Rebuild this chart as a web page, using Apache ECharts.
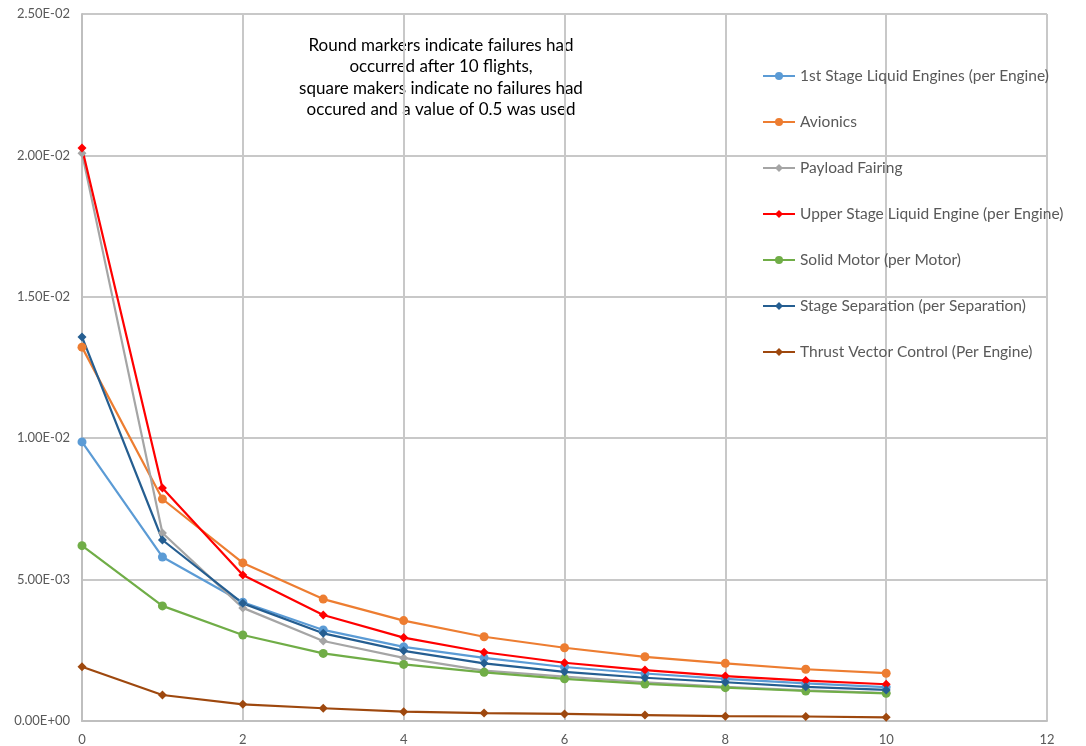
<!DOCTYPE html>
<html><head><meta charset="utf-8">
<script src="https://cdn.jsdelivr.net/npm/echarts@6/dist/echarts.min.js"></script>
<style>html,body{margin:0;padding:0;background:#fff}#c{width:1086px;height:746px}</style>
</head><body><div id="c"></div>
<script>
const flights = [0,1,2,3,4,5,6,7,8,9,10];
const seriesNames = [
  "1st Stage Liquid Engines (per Engine)",
  "Avionics",
  "Payload Fairing",
  "Upper Stage Liquid Engine (per Engine)",
  "Solid Motor (per Motor)",
  "Stage Separation (per Separation)",
  "Thrust Vector Control (Per Engine)"
];
const firstStage = [0.00987,0.0058,0.0042,0.00322,0.00262,0.00223,0.00191,0.00168,0.00149,0.00133,0.0012];
const avionics = [0.01322,0.00785,0.00559,0.00431,0.00355,0.00298,0.00259,0.00227,0.00204,0.00183,0.00169];
const payloadFairing = [0.02008,0.00665,0.004,0.00283,0.00223,0.00178,0.00157,0.00137,0.00121,0.00108,0.00099];
const upperStage = [0.02026,0.00824,0.00516,0.00375,0.00295,0.00243,0.00206,0.0018,0.00159,0.00143,0.0013];
const solidMotor = [0.0062,0.00407,0.00304,0.00239,0.002,0.00172,0.00149,0.00131,0.00118,0.00106,0.00098];
const stageSeparation = [0.01358,0.0064,0.00416,0.0031,0.00248,0.00204,0.00174,0.00153,0.00137,0.00121,0.0011];
const tvc = [0.00192,0.00092,0.00059,0.00045,0.00033,0.00028,0.00025,0.00021,0.00017,0.00016,0.00013];
const seriesData = [firstStage, avionics, payloadFairing, upperStage, solidMotor, stageSeparation, tvc];
const colors = ["#5B9BD5","#ED7D31","#A5A5A5","#FF0000","#70AD47","#255E91","#9E480E"];
const symbols = ["circle","circle","diamond","diamond","circle","diamond","diamond"];
const noteLines = [
  "Round markers indicate failures had",
  "occurred after 10 flights,",
  "square makers indicate no failures had",
  "occured and a value of 0.5 was used"
];
const FONT = "Lato, 'Open Sans', sans-serif";

function fmt(v){
  if (v === 0) return "0.00E+00";
  const s = v.toExponential(2);
  const [m, e] = s.split("e");
  const sign = e[0] === "-" ? "-" : "+";
  const d = e.replace(/[+-]/, "").padStart(2, "0");
  return m + "E" + sign + d;
}

const chart = echarts.init(document.getElementById("c"), null, {renderer: "canvas"});
chart.setOption({
  animation: false,
  backgroundColor: "#fff",
  textStyle: {fontFamily: FONT},
  grid: {left: 82, right: 39, top: 14, bottom: 25, containLabel: false},
  xAxis: {
    type: "value", min: 0, max: 12, interval: 2,
    axisLine: {show: true, lineStyle: {color: "#BFBFBF", width: 2}},
    axisTick: {show: false},
    axisLabel: {color: "#595959", fontSize: 13, fontFamily: FONT, margin: 12},
    splitLine: {show: true, lineStyle: {color: "#C8C8C8", width: 2}}
  },
  yAxis: {
    type: "value", min: 0, max: 0.025, interval: 0.005,
    axisLine: {show: true, lineStyle: {color: "#BFBFBF", width: 2}},
    axisTick: {show: false},
    axisLabel: {color: "#595959", fontSize: 13, fontFamily: FONT, margin: 12, formatter: fmt},
    splitLine: {show: true, lineStyle: {color: "#C8C8C8", width: 2}}
  },
  legend: {
    orient: "vertical", left: 762, top: 67, padding: 0,
    itemWidth: 32, itemHeight: 10, itemGap: 28,
    textStyle: {color: "#595959", fontSize: 15.5, fontFamily: FONT, lineHeight: 18},
    data: seriesNames
  },
  graphic: [{
    type: "text", left: 441 - 160, top: 35,
    style: {
      text: noteLines.join("\n"), fill: "#000", font: "17px " + FONT,
      textAlign: "center", lineHeight: 21.3, width: 320, x: 160
    }
  }],
  series: seriesNames.map((n, i) => ({
    name: n, type: "line",
    data: flights.map((f, j) => [f, seriesData[i][j]]),
    symbol: symbols[i], symbolSize: 9,
    showSymbol: true,
    lineStyle: {color: colors[i], width: 2.2},
    itemStyle: {color: colors[i]},
    emphasis: {disabled: true}
  }))
});
</script></body></html>
